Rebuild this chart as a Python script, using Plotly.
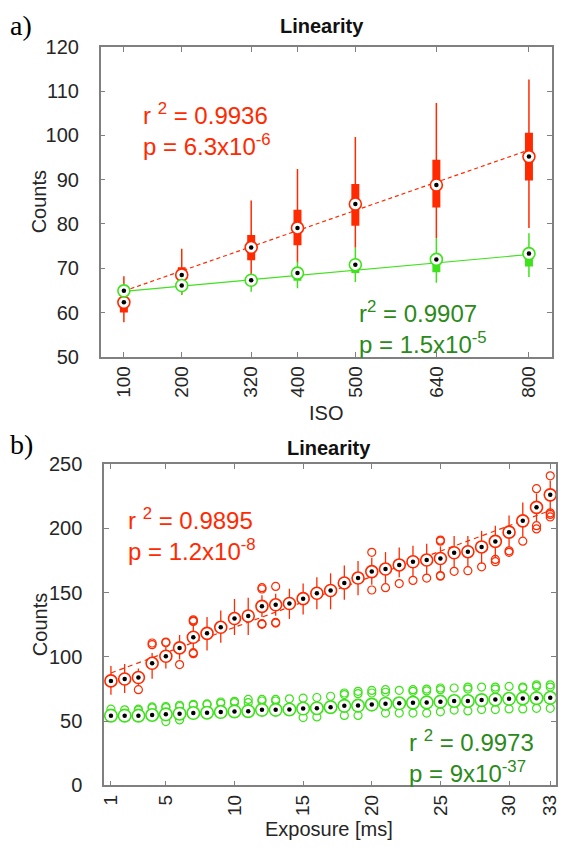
import plotly.graph_objects as go

W, H = 563, 852
SANS = "Liberation Sans, Arial, sans-serif"
SERIF = "Liberation Serif, Times New Roman, serif"
RED = "#ff2a00"
GREEN = "#3fe21c"
GREEN_TXT = "#2b8a1a"
AXIS = "#808080"
TICKTXT = "#262626"

# ---------------- panel a) data ----------------
iso = [100, 200, 320, 400, 500, 640, 800]
iso_ticks = ["100", "200", "320", "400", "500", "640", "800"]
red_med = [62.3, 68.5, 74.7, 79.1, 84.5, 88.8, 95.2]
red_q1 = [60.0, 66.9, 71.8, 75.2, 79.6, 83.7, 89.8]
red_q3 = [63.5, 70.2, 77.5, 83.2, 89.0, 94.5, 100.6]
red_lo = [57.8, 64.0, 68.0, 71.3, 74.6, 76.8, 79.1]
red_hi = [68.2, 74.4, 85.3, 92.4, 99.6, 107.3, 112.6]
green_med = [64.9, 66.1, 67.3, 68.9, 70.8, 72.0, 73.3]
green_q1 = [64.2, 65.4, 66.4, 67.2, 68.9, 69.1, 70.4]
green_q3 = [65.5, 66.8, 67.9, 69.5, 71.0, 72.5, 73.5]
green_lo = [63.5, 64.0, 64.7, 65.5, 66.9, 66.7, 68.0]
green_hi = [66.5, 67.5, 68.8, 71.5, 74.6, 76.8, 77.9]
red_fit_a = [60.3, 0.0455]      # intercept, slope
green_fit_a = [63.61, 0.01186]
yticks_a = [50, 60, 70, 80, 90, 100, 110, 120]

# ---------------- panel b) data ----------------
exposure = list(range(1, 34))
xticks_b = [1, 5, 10, 15, 20, 25, 30, 33]
yticks_b = [0, 50, 100, 150, 200, 250]
red_med_b = [81.3, 82.8, 84.0, 95.0, 100.5, 107.0, 115.3, 118.3, 123.0, 129.8,
             131.8, 139.3, 140.5, 141.5, 145.3, 149.5, 151.6, 157.5, 161.3, 166.3,
             168.3, 171.5, 174.0, 175.3, 176.5, 181.0, 181.8, 185.5, 189.8, 197.0,
             205.8, 216.3, 226.0]
red_lo_b = [70.5, 72.0, 78.0, 83.0, 91.0, 98.0, 106.0, 105.0, 111.0, 117.0,
            117.0, 131.0, 132.0, 129.5, 133.0, 137.0, 137.0, 144.5, 148.0, 156.0,
            157.5, 162.0, 162.5, 164.0, 166.0, 169.5, 170.0, 172.5, 177.5, 185.5,
            193.5, 205.5, 213.0]
red_hi_b = [93.0, 94.5, 91.0, 103.0, 108.0, 117.0, 125.0, 131.0, 136.0, 145.0,
            146.0, 148.0, 149.0, 153.0, 157.0, 162.0, 165.0, 171.0, 174.5, 177.0,
            181.5, 185.0, 186.5, 188.0, 186.0, 194.0, 194.0, 198.0, 202.0, 210.0,
            220.0, 227.0, 237.0]
red_out_x = [3, 4, 4, 5, 5, 6, 7, 7, 7, 7, 7, 12, 12, 12, 12, 13, 13, 13,
             20, 20, 21, 22, 23, 24, 25, 25, 25, 25, 26, 27, 28, 29, 29, 30, 30,
             31, 32, 32, 32, 33, 33, 33, 33]
red_out_y = [74.5, 110.8, 109.5, 111.5, 111.0, 94.0, 128.8, 127.5, 128.0, 103.3, 102.5,
             153.8, 152.8, 125.3, 125.8, 154.8, 126.8, 126.3,
             181.3, 152.0, 153.8, 157.0, 159.5, 161.3, 190.8, 190.0, 163.3, 162.8,
             166.5, 167.0, 170.0, 175.8, 174.0, 182.5, 181.3,
             190.0, 230.8, 202.0, 199.5, 240.8, 212.0, 210.8, 208.8]
red_fit_b = [83.5, 3.95]

green_med_b = [54.3, 54.3, 54.3, 54.8, 55.3, 55.8, 56.3, 56.6, 57.1, 57.6,
               57.8, 58.8, 58.8, 59.1, 59.8, 60.1, 60.9, 61.9, 62.1, 62.9,
               63.6, 63.9, 64.4, 64.6, 65.2, 65.7, 65.7, 66.4, 66.9, 67.4,
               67.7, 67.9, 68.2]
green_lo_b = [51.0, 51.0, 51.0, 51.5, 52.0, 52.5, 53.0, 53.0, 53.5, 54.0,
              54.0, 55.0, 55.0, 55.0, 55.5, 56.0, 56.5, 57.0, 56.5, 58.0,
              58.0, 59.0, 59.0, 59.0, 60.0, 60.5, 60.5, 61.0, 61.5, 62.0,
              62.5, 62.5, 63.0]
green_hi_b = [57.0, 57.0, 57.0, 57.5, 58.0, 58.5, 59.0, 59.5, 60.0, 60.5,
              60.5, 61.5, 61.5, 62.0, 62.5, 63.0, 63.5, 64.5, 65.0, 65.5,
              66.5, 66.5, 67.0, 67.5, 68.0, 68.5, 68.5, 69.0, 69.5, 70.0,
              70.5, 70.5, 71.0]
green_out_x = [1, 2, 3, 3, 4, 4, 5, 5, 6, 6, 7, 7, 8, 8, 9, 9, 10, 10, 11, 11,
               12, 12, 13, 13, 14, 15, 16, 17, 18, 18, 19, 19, 20, 20, 21, 21,
               22, 23, 23, 24, 24, 25, 25, 26, 27, 27, 28, 29, 29, 30, 31, 31,
               32, 32, 33, 33,
               5, 6, 15, 16, 18, 19, 21, 22, 23, 24, 25, 26, 27, 28, 29, 30,
               31, 32, 33]
green_out_y = [59.3, 58.8, 59.3, 58.5, 61.1, 60.4, 61.4, 60.6, 62.4, 61.4, 63.1, 62.4,
               63.4, 62.9, 64.9, 63.9, 65.4, 64.4, 66.9, 64.4, 66.9, 65.7, 66.9, 65.7,
               67.4, 67.9, 68.4, 69.4, 71.9, 70.7, 73.2, 71.4, 73.9, 71.9, 74.5, 72.5,
               74.0, 74.5, 73.2, 75.0, 73.5, 75.8, 74.5, 75.8, 76.5, 75.0, 76.5, 76.5,
               75.0, 77.0, 76.5, 75.8, 78.3, 77.0, 78.3, 76.5,
               49.7, 51.0, 52.8, 53.3, 54.5, 54.5, 56.3, 56.3, 56.3, 56.3, 57.3,
               58.6, 58.0, 59.0, 59.0, 59.5, 59.5, 60.0, 60.0]

# ---------------- helpers ----------------
def segments(xs, lo, hi):
    X, Y = [], []
    for x, a, b in zip(xs, lo, hi):
        X += [x, x, None]
        Y += [a, b, None]
    return X, Y


def line_trace(xs, lo, hi, color, width, xa, ya):
    X, Y = segments(xs, lo, hi)
    return go.Scatter(x=X, y=Y, mode="lines", xaxis=xa, yaxis=ya,
                      line=dict(color=color, width=width), hoverinfo="skip")


def median_traces(xs, ys, color, xa, ya, size=12):
    return [
        go.Scatter(x=xs, y=ys, mode="markers", xaxis=xa, yaxis=ya, cliponaxis=False,
                   marker=dict(symbol="circle", size=size, color="white",
                               line=dict(color=color, width=1.6))),
        go.Scatter(x=xs, y=ys, mode="markers", xaxis=xa, yaxis=ya, cliponaxis=False,
                   marker=dict(symbol="circle", size=4.5, color="black",
                               line=dict(width=0))),
    ]


def fit_trace(xs, coef, color, dash, xa, ya, width=1.2):
    fx = [xs[0], xs[-1]]
    fy = [coef[0] + coef[1] * v for v in fx]
    return go.Scatter(x=fx, y=fy, mode="lines", xaxis=xa, yaxis=ya,
                      line=dict(color=color, width=width, dash=dash), hoverinfo="skip")


fig = go.Figure()

# panel a
fig.add_trace(line_trace(iso, red_lo, red_hi, RED, 1.5, "x", "y"))
fig.add_trace(line_trace(iso, red_q1, red_q3, RED, 8, "x", "y"))
fig.add_trace(fit_trace(iso, red_fit_a, RED, "4px,3px", "x", "y"))
fig.add_trace(line_trace(iso, green_lo, green_hi, GREEN, 1.5, "x", "y"))
fig.add_trace(line_trace(iso, green_q1, green_q3, GREEN, 8, "x", "y"))
fig.add_trace(fit_trace(iso, green_fit_a, GREEN, "solid", "x", "y"))
for t in median_traces(iso, red_med, RED, "x", "y"):
    fig.add_trace(t)
for t in median_traces(iso, green_med, GREEN, "x", "y"):
    fig.add_trace(t)

# panel b
fig.add_trace(line_trace(exposure, red_lo_b, red_hi_b, RED, 1.3, "x2", "y2"))
fig.add_trace(fit_trace(exposure, red_fit_b, RED, "5px,4px", "x2", "y2"))
fig.add_trace(go.Scatter(x=red_out_x, y=red_out_y, mode="markers", xaxis="x2", yaxis="y2",
                         cliponaxis=False,
                         marker=dict(symbol="circle-open", size=8, color=RED,
                                     line=dict(width=1.2))))
for t in median_traces(exposure, red_med_b, RED, "x2", "y2"):
    fig.add_trace(t)
fig.add_trace(line_trace(exposure, green_lo_b, green_hi_b, GREEN, 1.3, "x2", "y2"))
fig.add_trace(go.Scatter(x=green_out_x, y=green_out_y, mode="markers", xaxis="x2", yaxis="y2",
                         cliponaxis=False,
                         marker=dict(symbol="circle-open", size=8, color=GREEN,
                                     line=dict(width=1.2))))
for t in median_traces(exposure, green_med_b, GREEN, "x2", "y2", size=12.5):
    fig.add_trace(t)


def dom_x(a, b):
    return [a / W, b / W]


def dom_y(top, bottom):
    return [1 - bottom / H, 1 - top / H]


axis_common = dict(showline=True, linecolor=AXIS, linewidth=1.5, mirror="ticks",
                   ticks="inside", ticklen=5, tickwidth=1, tickcolor=AXIS,
                   showgrid=False, zeroline=False, ticklabeloverflow="allow")
yfont = dict(family=SANS, size=20, color=TICKTXT)
xfont = dict(family=SANS, size=19, color=TICKTXT)

fig.update_layout(
    width=W, height=H, margin=dict(l=0, r=0, t=0, b=0),
    paper_bgcolor="white", plot_bgcolor="white", showlegend=False,
    xaxis=dict(domain=dom_x(98.3, 557), range=[60, 840], anchor="y",
               tickvals=iso, ticktext=iso_ticks, tickangle=-90,
               ticklabelstandoff=0, tickfont=xfont, **axis_common),
    yaxis=dict(domain=dom_y(36.7, 355), range=[50, 120], anchor="x",
               tickvals=yticks_a, ticklabelstandoff=16, tickfont=yfont, **axis_common),
    xaxis2=dict(domain=dom_x(101.7, 560.7), range=[0.5, 33.4], anchor="y2",
                tickvals=xticks_b, ticktext=[str(v) for v in xticks_b],
                tickangle=-90, ticklabelstandoff=0, tickfont=xfont, **axis_common),
    yaxis2=dict(domain=dom_y(465, 795), range=[0, 250], anchor="x2",
                tickvals=yticks_b, ticklabelstandoff=16, tickfont=yfont, **axis_common),
)


def ann(text, px, py, size, color, xanchor="left", family=SANS, angle=0):
    fig.add_annotation(text=text, x=px / W, y=1 - py / H, xref="paper", yref="paper",
                       xanchor=xanchor, yanchor="middle", showarrow=False,
                       textangle=angle, align="left",
                       font=dict(family=family, size=size, color=color))


ann("a)", 4, 15, 28, "black", family=SERIF)
ann("<b>Linearity</b>", 323, 15, 20, "#111111", xanchor="center")
ann("r <sup>2</sup> = 0.9936<br>p = 6.3x10<sup>-6</sup>", 139, 122, 24, RED)
ann("r<sup>2</sup> = 0.9907<br>p = 1.5x10<sup>-5</sup>", 359, 325, 24, GREEN_TXT)
ann("ISO", 327, 413, 20, TICKTXT, xanchor="center")
ann("Counts", 36, 196, 20, TICKTXT, xanchor="center", angle=-90)

ann("b)", 4, 445, 28, "black", family=SERIF)
ann("<b>Linearity</b>", 330, 449, 20, "#111111", xanchor="center")
ann("r <sup>2</sup> = 0.9895<br>p = 1.2x10<sup>-8</sup>", 124, 537, 24, RED)
ann("r <sup>2</sup> = 0.9973<br>p = 9x10<sup>-37</sup>", 410, 765, 24, GREEN_TXT)
ann("Counts", 36, 630, 20, TICKTXT, xanchor="center", angle=-90)
ann("Exposure [ms]", 330, 840, 20, TICKTXT, xanchor="center")

fig.write_html("out.html")
